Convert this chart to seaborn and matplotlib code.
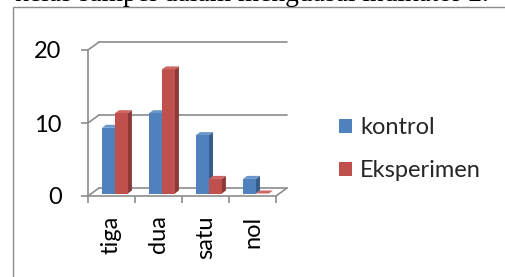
import numpy as np
import pandas as pd
import matplotlib.pyplot as plt
import seaborn as sns
from matplotlib.patches import Polygon, Patch, Rectangle

# data
categories = ['tiga', 'dua', 'satu', 'nol']
kontrol = [9, 11, 8, 2]
eksperimen = [11, 17, 2, 0]
series = ['kontrol', 'Eksperimen']
colors = ['#4F81BD', '#C0504D']
side_colors = ['#385D8A', '#8C3A38']
top_colors = ['#6A96CC', '#CF6562']
title_text = 'kelas sampel dalam menguasai indikator 2.'

df = pd.DataFrame({
    'kategori': categories * 2,
    'nilai': kontrol + eksperimen,
    'seri': [series[0]] * 4 + [series[1]] * 4,
})

sns.set_theme(style='white')
plt.rcParams['font.family'] = ['Lato', 'DejaVu Sans']

W, H = 505, 277
fig = plt.figure(figsize=(W / 100, H / 100), dpi=100)
ax = fig.add_axes([88 / W, 81 / H, 188 / W, 146 / H])

sns.barplot(data=df, x='kategori', y='nilai', hue='seri', order=categories,
            hue_order=series, palette=colors, width=0.55, legend=False,
            saturation=1, ax=ax)

ax.set_xlim(-0.5, 3.5)
ax.set_ylim(0, 20)

# 3d offsets (data units)
px_x = 4 / 188   # data per pixel along x
px_y = 20 / 146
DX, DY = 11 * px_x, 8 * px_y        # wall depth
bx, by = 3.5 * px_x, 2.5 * px_y     # bar position inside depth
ddx, ddy = 4 * px_x, 3 * px_y       # bar depth

grid_col = '#8C8C8C'
lw = 1.2
fs = 17

# back wall gridlines + left diagonals
for yv in [0, 10, 20]:
    ax.plot([-0.5 + DX, 3.5 + DX], [yv + DY, yv + DY], color=grid_col, lw=lw,
            clip_on=False, zorder=1)
    ax.plot([-0.5, -0.5 + DX], [yv, yv + DY], color=grid_col, lw=lw,
            clip_on=False, zorder=1)
# floor right edge
ax.plot([3.5, 3.5 + DX], [0, DY], color=grid_col, lw=lw, clip_on=False, zorder=1)

# 3d bars from the seaborn patches
bars = [p for p in ax.patches]
for i, p in enumerate(bars):
    j = i // len(categories)
    x0 = p.get_x() + bx
    w = p.get_width()
    h = p.get_height()
    p.set_x(x0)
    p.set_y(by)
    p.set_linewidth(0)
    p.set_zorder(3 + 2 * j)
    p.set_clip_on(False)
    x1 = x0 + w
    y0, y1 = by, by + h
    side = Polygon([(x1, y0), (x1 + ddx, y0 + ddy), (x1 + ddx, y1 + ddy), (x1, y1)],
                   closed=True, facecolor=side_colors[j], lw=0,
                   zorder=4 + 2 * j, clip_on=False)
    top = Polygon([(x0, y1), (x0 + ddx, y1 + ddy), (x1 + ddx, y1 + ddy), (x1, y1)],
                  closed=True, facecolor=top_colors[j], lw=0,
                  zorder=4 + 2 * j, clip_on=False)
    ax.add_patch(side)
    ax.add_patch(top)

for s in ['top', 'right']:
    ax.spines[s].set_visible(False)
for s in ['left', 'bottom']:
    ax.spines[s].set_color(grid_col)
    ax.spines[s].set_linewidth(lw)
    ax.spines[s].set_zorder(2)

ax.set_yticks([0, 10, 20])
ax.set_xticks(range(len(categories)))
ax.set_xticklabels(categories, rotation=90, va='top', ha='center')
ax.set_xticks(np.arange(-0.5, 4, 1), minor=True)
ax.tick_params(axis='y', which='major', left=True, length=5, width=lw,
               color=grid_col, pad=14, labelsize=fs, labelcolor='black')
ax.tick_params(axis='x', which='major', bottom=False, length=0, pad=14,
               labelsize=fs, labelcolor='black')
ax.tick_params(axis='x', which='minor', bottom=True, length=5, width=lw,
               color=grid_col)
ax.set_xlabel('')
ax.set_ylabel('')
ax.grid(False)

handles = [Patch(facecolor=c, edgecolor='none') for c in colors]
fig.legend(handles, series, loc='upper left', bbox_to_anchor=(339 / W, 1 - 117 / H),
           frameon=False, fontsize=fs, handlelength=0.55, handleheight=0.55,
           handletextpad=0.35, labelspacing=0.95, borderaxespad=0, borderpad=0)

# outer frame and cut-off text above it
fig.add_artist(Rectangle((13 / W, -0.1), 1.2, 1.1 - 7 / H, transform=fig.transFigure,
                         fill=False, edgecolor='#8C8C8C', lw=1))
fig.text(15 / W, 1 - 1 / H, title_text, family='Liberation Serif', fontsize=19.8,
         va='baseline', ha='left', color='black')

fig.savefig('out.png', dpi=100)
